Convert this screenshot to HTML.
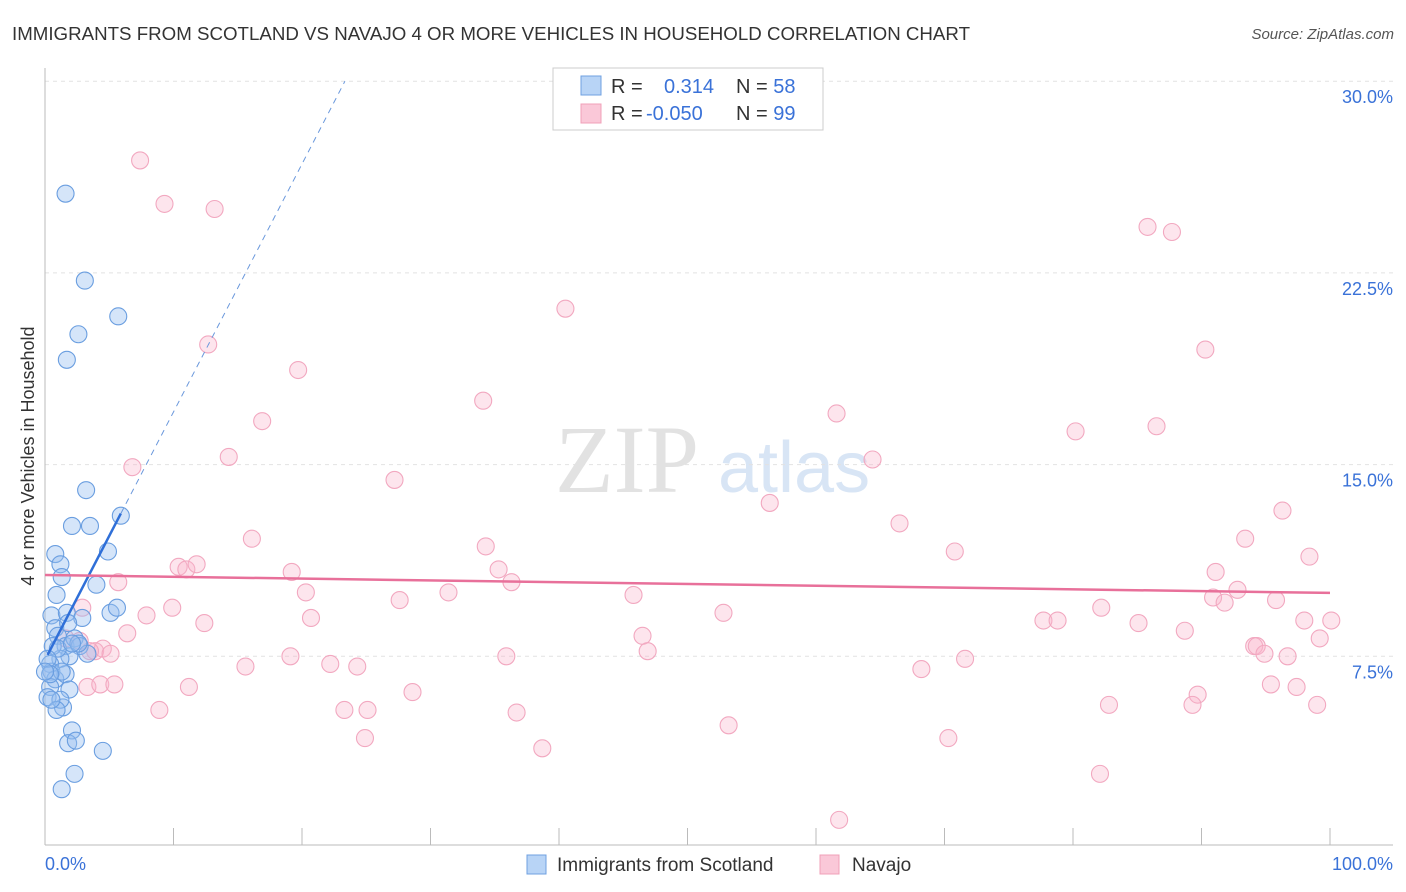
<!DOCTYPE html>
<html><head><meta charset="utf-8"><style>
body{margin:0;background:#fff;font-family:"Liberation Sans",sans-serif;}
svg{display:block}
</style></head><body>
<svg id="c" width="1406" height="892" xmlns="http://www.w3.org/2000/svg">
<text x="12" y="40" font-size="18" fill="#333" textLength="958" lengthAdjust="spacingAndGlyphs">IMMIGRANTS FROM SCOTLAND VS NAVAJO 4 OR MORE VEHICLES IN HOUSEHOLD CORRELATION CHART</text>
<text x="1394" y="39" font-size="15" fill="#555" font-style="italic" text-anchor="end">Source: ZipAtlas.com</text>
<text x="34" y="456" font-size="18" fill="#333" text-anchor="middle" transform="rotate(-90 34 456)">4 or more Vehicles in Household</text>
<text x="555" y="492" font-size="96" fill="#e2e2e2" font-family="Liberation Serif,serif">ZIP</text>
<text x="718" y="492" font-size="72" fill="#d8e5f5">atlas</text>
<g id="grid"></g><g id="pts"></g><g id="lines"></g>
<rect x="553" y="68" width="270" height="62" fill="#fff" stroke="#ccc"/>
<rect x="581" y="76" width="20" height="19" fill="#b8d4f6" stroke="#6fa0e0"/>
<rect x="581" y="104" width="20" height="19" fill="#fac8d8" stroke="#f0a0b8"/>
<text x="611" y="93" font-size="20" fill="#333">R = <tspan x="664" fill="#3a72d8">0.314</tspan><tspan x="736" fill="#333">N = </tspan><tspan fill="#3a72d8">58</tspan></text>
<text x="611" y="120" font-size="20" fill="#333">R = <tspan x="646" fill="#3a72d8">-0.050</tspan><tspan x="736" fill="#333">N = </tspan><tspan fill="#3a72d8">99</tspan></text>
<rect x="527" y="855" width="19" height="19" fill="#b8d4f6" stroke="#6fa0e0"/>
<text x="557" y="871" font-size="19" fill="#333">Immigrants from Scotland</text>
<rect x="820" y="855" width="19" height="19" fill="#fac8d8" stroke="#f0a0b8"/>
<text x="852" y="871" font-size="19" fill="#333">Navajo</text>
<text x="45" y="870" font-size="18" fill="#3a72d8">0.0%</text>
<text x="1393" y="870" font-size="18" fill="#3a72d8" text-anchor="end">100.0%</text>
</svg>
<script>
const yTicks=[7.5,15,22.5,30];
const yTickLabels=["7.5%","15.0%","22.5%","30.0%"];
const xTicks=[0,10,20,30,40,50,60,70,80,90,100];
const blueX=[1.6,3.1,5.7,2.6,1.7,3.2,2.1,3.5,5.9,4.9,0.8,1.2,1.3,4.0,0.9,0.5,1.7,2.9,5.1,5.6,0.8,1.0,1.6,2.3,2.7,1.9,3.3,1.2,0.4,0.5,0.8,1.6,1.9,0.4,0.2,1.4,2.1,1.8,2.4,4.5,2.3,1.3,0.6,1.0,0.2,1.3,0.4,0.0,2.6,2.1,1.2,0.9,0.5,1.8];
const blueY=[25.6,22.2,20.8,20.1,19.1,14.0,12.6,12.6,13.0,11.6,11.5,11.1,10.6,10.3,9.9,9.1,9.2,9.0,9.2,9.4,8.6,8.3,7.9,8.2,7.9,7.5,7.6,7.4,7.2,6.9,6.6,6.8,6.2,6.3,5.9,5.5,4.6,4.1,4.2,3.8,2.9,2.3,7.9,7.8,7.4,6.9,6.8,6.9,8.0,8.0,5.8,5.4,5.8,8.8];
const pinkX=[7.4,9.3,13.2,40.5,12.7,19.7,34.1,16.9,61.6,80.2,86.5,85.8,87.7,90.3,14.3,6.8,27.2,64.4,56.4,66.5,96.3,16.1,34.3,70.8,93.4,98.4,10.4,11.0,11.8,19.2,35.3,91.1,5.7,36.3,92.8,20.3,27.6,31.4,45.8,90.9,91.8,95.8,2.9,7.9,9.9,20.7,52.8,82.2,77.7,78.8,85.1,98.0,100.1,6.4,12.4,88.7,46.5,99.2,94.1,94.3,94.9,46.9,19.1,35.9,71.6,96.7,15.6,22.2,24.3,68.2,3.9,4.5,3.3,4.3,5.4,11.2,28.6,89.7,95.4,97.4,8.9,23.3,25.1,36.7,82.8,89.3,99.0,53.2,24.9,70.3,38.7,82.1,61.8,1.6,2.7,3.5,5.1];
const pinkY=[26.9,25.2,25.0,21.1,19.7,18.7,17.5,16.7,17.0,16.3,16.5,24.3,24.1,19.5,15.3,14.9,14.4,15.2,13.5,12.7,13.2,12.1,11.8,11.6,12.1,11.4,11.0,10.9,11.1,10.8,10.9,10.8,10.4,10.4,10.1,10.0,9.7,10.0,9.9,9.8,9.6,9.7,9.4,9.1,9.4,9.0,9.2,9.4,8.9,8.9,8.8,8.9,8.9,8.4,8.8,8.5,8.3,8.2,7.9,7.9,7.6,7.7,7.5,7.5,7.4,7.5,7.1,7.2,7.1,7.0,7.7,7.8,6.3,6.4,6.4,6.3,6.1,6.0,6.4,6.3,5.4,5.4,5.4,5.3,5.6,5.6,5.6,4.8,4.3,4.3,3.9,2.9,1.1,8.2,8.1,7.7,7.6];
const blueTrend=[7.36,0.97];
const pinkTrend=[10.68,-0.007];
const X0=45,X1=1330,Y0=848,YS=191.7/7.5;
const sx=v=>X0+(X1-X0)*v/100, sy=v=>Y0-v*YS;
const NS="http://www.w3.org/2000/svg";
function mk(t,a,p){const e=document.createElementNS(NS,t);for(const k in a)e.setAttribute(k,a[k]);document.getElementById(p).appendChild(e);return e;}
yTicks.forEach((t,i)=>{
 const l=mk('line',{x1:45,x2:1393,y1:sy(t),y2:sy(t),stroke:'#e2e2e2','stroke-dasharray':'4,4'},'grid');
 
 
 const tx=mk('text',{x:1393,y:sy(t)+22,'font-size':18,fill:'#3a72d8','text-anchor':'end'},'grid');
 tx.textContent=yTickLabels[i];
 
 
});
const ax=mk('line',{x1:45,x2:1393,y1:845,y2:845,stroke:'#bbb'},'grid');


const ay=mk('line',{x1:45,x2:45,y1:68,y2:845,stroke:'#bbb'},'grid');


xTicks.forEach(t=>{
 const l=mk('line',{x1:sx(t),x2:sx(t),y1:828,y2:845,stroke:'#bbb'},'grid');
 
 
});
pinkX.forEach((x,i)=>{
 const c=mk('circle',{cx:sx(x),cy:sy(pinkY[i]),r:8.5,fill:'rgba(248,180,204,0.35)',stroke:'#f2a8c0','stroke-width':1.1},'pts');
 
 
});
blueX.forEach((x,i)=>{
 const c=mk('circle',{cx:sx(x),cy:sy(blueY[i]),r:8.5,fill:'rgba(150,190,240,0.4)',stroke:'#6a9ee0','stroke-width':1.1},'pts');
 
 
});
const bf=v=>blueTrend[0]+blueTrend[1]*v;
const bl=mk('line',{x1:sx(0.2),y1:sy(bf(0.2)),x2:sx(5.9),y2:sy(bf(5.9)),stroke:'#2f6fd8','stroke-width':2.5},'lines');


const xe=(30-blueTrend[0])/blueTrend[1];
const bd=mk('line',{x1:sx(5.9),y1:sy(bf(5.9)),x2:sx(xe),y2:sy(30),stroke:'#6a98dc','stroke-width':1,'stroke-dasharray':'6,5'},'lines');


const pf=v=>pinkTrend[0]+pinkTrend[1]*v;
const pl=mk('line',{x1:sx(0),y1:sy(pf(0)),x2:sx(100),y2:sy(pf(100)),stroke:'#e8709a','stroke-width':2.5},'lines');


</script>
</body></html>
